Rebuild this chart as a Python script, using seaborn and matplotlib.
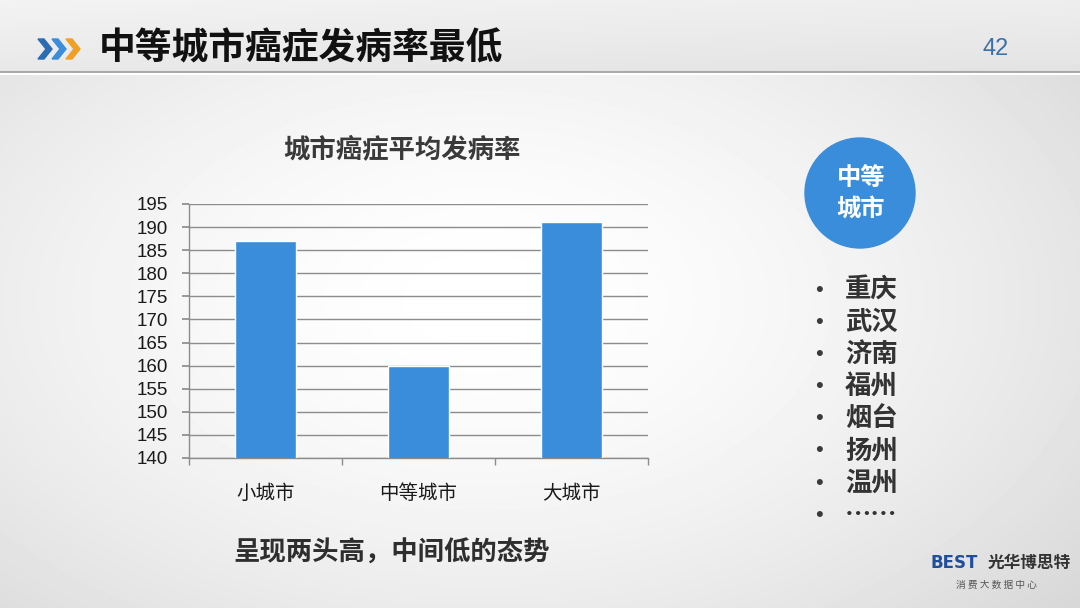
import numpy as np
import pandas as pd
import matplotlib.pyplot as plt
import seaborn as sns
from matplotlib.patches import Circle, Polygon

categories = ["小城市", "中等城市", "大城市"]
rates = [187, 160, 191]
y_ticks = [140, 145, 150, 155, 160, 165, 170, 175, 180, 185, 190, 195]
mid_cities = ["重庆", "武汉", "济南", "福州", "烟台", "扬州", "温州", "……"]

BLUE = "#3a8ddb"
FONTS = ["Liberation Sans", "Noto Sans CJK SC", "DejaVu Sans"]
CJK = ["Noto Sans CJK SC", "DejaVu Sans"]

sns.set_theme(style="white")
plt.rcParams["font.family"] = FONTS

fig = plt.figure(figsize=(10.8, 6.08), dpi=100)

# background in pixel coords
bg = fig.add_axes([0, 0, 1, 1])
bg.set_xlim(0, 1080)
bg.set_ylim(608, 0)
bg.axis("off")
yy, xx = np.mgrid[0:608, 0:1080]
r = np.sqrt(((xx - 480) / 700) ** 2 + ((yy - 300) / 420) ** 2)
shade = np.clip(1.0 - 0.13 * r ** 1.6, 0.80, 1.0)
head = (yy < 72)
shade[head] = 0.95 - 0.04 * (yy[head] / 72) - 0.02 * (xx[head] / 1080)
bg.imshow(shade, cmap="gray", vmin=0, vmax=1, extent=(0, 1080, 608, 0),
          aspect="auto", zorder=0)
bg.plot([0, 1080], [72, 72], color="#a8a8a8", lw=1.5, zorder=1)
bg.plot([0, 1080], [74, 74], color="#ffffff", lw=1.5, zorder=1)

# chevrons
for x0, c in [(38, "#2b6cb3"), (52, "#3a8ddb"), (66, "#f0a023")]:
    bg.add_patch(Polygon([(x0, 39), (x0 + 6, 39), (x0 + 14, 49), (x0 + 6, 59),
                          (x0, 59), (x0 + 8, 49)], closed=True, color=c, zorder=2))

bg.text(99, 49, "中等城市癌症发病率最低", fontsize=26.5, fontweight="bold",
        family=CJK, color="#111111", va="center", ha="left")
bg.text(996, 49, "42", fontsize=17, color="#3d6fa8", va="center", ha="center")

bg.text(402, 150, "城市癌症平均发病率", fontsize=19, fontweight="bold",
        family=CJK, color="#3a3a3a", va="center", ha="center")
bg.text(392, 553, "呈现两头高，中间低的态势", fontsize=19, fontweight="bold",
        family=CJK, color="#2e2e2e", va="center", ha="center")

# circle badge
bg.add_patch(Circle((860, 193), 55, color=BLUE, zorder=2))
bg.text(861, 178, "中等", fontsize=17.5, fontweight="bold", family=CJK,
        color="white", ha="center", va="center", zorder=3)
bg.text(861, 209, "城市", fontsize=17.5, fontweight="bold", family=CJK,
        color="white", ha="center", va="center", zorder=3)

for i, city in enumerate(mid_cities):
    y = 290 + i * 32.2
    bg.text(819, y, "•", fontsize=16, color="#3a3a3a", ha="center", va="center")
    bg.text(845, y, city, fontsize=19, fontweight="bold", family=CJK,
            color="#333333", ha="left", va="center")

# logo
bg.text(930, 563, "BEST", fontsize=12, fontweight="bold", color="#1f4f9a",
        ha="left", va="center", family=["DejaVu Sans"])
bg.text(988, 563, "光华博思特", fontsize=12, fontweight="bold", family=CJK,
        color="#333333", ha="left", va="center")
bg.text(997, 585, "消 费 大 数 据 中 心", fontsize=7, family=CJK,
        color="#555555", ha="center", va="center")

# chart
df = pd.DataFrame({"city": categories, "rate": rates})
ax = fig.add_axes([189 / 1080, 1 - 458 / 608, (648 - 189) / 1080, (458 - 204) / 608])
ax.patch.set_alpha(0)
sns.barplot(data=df, x="city", y="rate", color=BLUE, saturation=1,
            width=0.4, ax=ax, zorder=3)
ax.set_ylim(140, 195)
ax.set_yticks(y_ticks)
ax.set_xlim(-0.5, 2.5)
ax.set_xlabel("")
ax.set_ylabel("")
ax.yaxis.grid(True, color="#8c8c8c", lw=1)
ax.set_axisbelow(True)
for side in ["top", "right"]:
    ax.spines[side].set_visible(False)
for side in ["left", "bottom"]:
    ax.spines[side].set_color("#8c8c8c")
    ax.spines[side].set_linewidth(1)
ax.tick_params(axis="y", labelsize=13.5, colors="#8c8c8c", labelcolor="#1a1a1a",
               length=5, direction="out", left=True, pad=10)
ax.set_xticks([0, 1, 2])
ax.set_xticklabels(categories, family=CJK, fontsize=14, color="#1a1a1a")
ax.set_xticks([-0.5, 0.5, 1.5, 2.5], minor=True)
ax.tick_params(axis="x", which="major", length=0, pad=18)
ax.tick_params(axis="x", which="minor", length=5, color="#8c8c8c", bottom=True)

fig.savefig("out.png", dpi=100)
